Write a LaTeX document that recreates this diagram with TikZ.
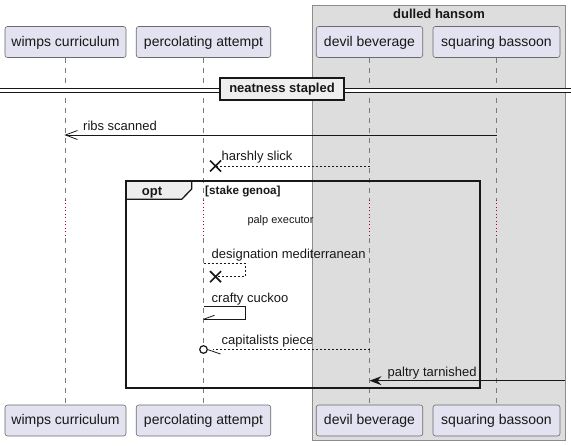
\documentclass[tikz,border=0pt]{standalone}
\usepackage{fontspec}
\setmainfont{Liberation Sans}
\definecolor{partfill}{HTML}{E2E2F0}
\definecolor{partline}{HTML}{6A6A6A}
\definecolor{grpfill}{HTML}{DDDDDD}
\definecolor{grpline}{HTML}{8C8C8C}
\definecolor{tabfill}{HTML}{EEEEEE}
\definecolor{delayred}{HTML}{A80036}
\definecolor{lifegray}{HTML}{7A7A7A}
\definecolor{ink}{HTML}{181818}
\tikzset{
  part/.style={draw=partline, fill=partfill, rounded corners=2.5bp, line width=0.6bp,
    minimum height=31bp, inner sep=0pt, text height=10.5bp, text depth=2bp,
    font=\fontsize{14bp}{16bp}\selectfont, text=ink},
  lifeline/.style={draw=lifegray, line width=0.6bp, dash pattern=on 5bp off 5bp},
  delayline/.style={draw=delayred, line width=0.7bp, dash pattern=on 1bp off 2.5bp},
  msg/.style={draw=ink, line width=0.8bp},
  dmsg/.style={draw=ink, line width=0.8bp, dash pattern=on 2bp off 2bp},
  msglabel/.style={anchor=base west, inner sep=0pt, font=\fontsize{13bp}{15bp}\selectfont, text=ink},
  boldlabel/.style={inner sep=0pt, font=\fontsize{13bp}{15bp}\selectfont\bfseries, text=ink},
  xmark/.style={draw=ink, line width=1.7bp},
  framestyle/.style={draw=ink, line width=1.6bp}
}
\begin{document}
\begin{tikzpicture}[x=1bp,y=-1bp]
\useasboundingbox (0,0) rectangle (571,446);
% group box
\filldraw[fill=grpfill, draw=grpline, line width=1bp] (312,6) rectangle (565,440);
\node[boldlabel, anchor=base] (gtitle) at (439,18.5) {dulled hansom};
% participants
\node[part, minimum width=121bp] (wc) at (65.5,42) {wimps curriculum};
\node[part, minimum width=134.5bp] (pa) at (203.5,42) {percolating attempt};
\node[part, minimum width=106.5bp] (db) at (369.5,42) {devil beverage};
\node[part, minimum width=127bp] (sb) at (496.5,42) {squaring bassoon};
\node[part, minimum width=121bp] (wc2) at (65.5,420.5) {wimps curriculum};
\node[part, minimum width=134.5bp] (pa2) at (203.5,420.5) {percolating attempt};
\node[part, minimum width=106.5bp] (db2) at (369.5,420.5) {devil beverage};
\node[part, minimum width=127bp] (sb2) at (496.5,420.5) {squaring bassoon};
% lifelines
\foreach \p in {wc,pa,db,sb}{
  \coordinate (\p d1) at (\p.south |- 0,200);
  \coordinate (\p d2) at (\p.south |- 0,238);
  \draw[lifeline] (\p.south) -- (\p d1);
  \draw[delayline] (\p d1) -- (\p d2);
  \draw[lifeline] (\p d2) -- (\p2.north);
}
% divider
\fill[white] (0,89) rectangle (571,93);
\draw[draw=ink, line width=1bp] (0,89) -- (571,89) (0,93) -- (571,93);
\node[draw=ink, fill=tabfill, line width=1.6bp, minimum width=124bp, minimum height=22bp,
  inner sep=0pt, font=\fontsize{13bp}{15bp}\selectfont\bfseries, text=ink,
  text height=9.5bp, text depth=2.5bp] (div) at (282,89) {neatness stapled};
% ribs scanned
\coordinate (ribsA) at (sb.south |- 0,135);
\coordinate (ribsB) at (wc.south |- 0,135);
\draw[msg] (ribsA) -- (ribsB);
\draw[msg] ([xshift=12bp,yshift=4.5bp]ribsB) -- (ribsB) -- ([xshift=12bp,yshift=-4.5bp]ribsB);
\node[msglabel] (l1) at (83,131) {ribs scanned};
% harshly slick
\coordinate (hsA) at (db.south |- 0,166);
\coordinate (hsX) at (215.5,166);
\draw[dmsg] (hsA) -- (hsX);
\draw[xmark] ([xshift=-5.5bp,yshift=-5.5bp]hsX) -- ([xshift=5.5bp,yshift=5.5bp]hsX)
  ([xshift=-5.5bp,yshift=5.5bp]hsX) -- ([xshift=5.5bp,yshift=-5.5bp]hsX);
\node[msglabel] (l2) at (221.5,161) {harshly slick};
% opt frame
\filldraw[fill=tabfill, draw=ink, line width=1.3bp] (126,181) -- (191.7,181) -- (191.7,189) -- (181.7,199.3) -- (126,199.3) -- cycle;
\draw[framestyle] (126,181) rectangle (480,388);
\node[boldlabel, anchor=base] (optl) at (152,196) {opt};
\node[inner sep=0pt, anchor=base west, font=\fontsize{11.7bp}{13bp}\selectfont\bfseries, text=ink] (cond) at (205,195) {[stake genoa]};
\node[inner sep=0pt, anchor=base west, font=\fontsize{11bp}{13bp}\selectfont, text=ink] (delay) at (247.3,224) {palp executor};
% designation mediterranean (self, dashed, lost)
\coordinate (dmA) at (pa.south |- 0,263.3);
\coordinate (dmB) at (245,263.3);
\coordinate (dmC) at (245,276.7);
\coordinate (dmX) at (215.5,276.7);
\draw[dmsg] (dmA) -- (dmB) -- (dmC) -- (dmX);
\draw[xmark] ([xshift=-5.5bp,yshift=-5.5bp]dmX) -- ([xshift=5.5bp,yshift=5.5bp]dmX)
  ([xshift=-5.5bp,yshift=5.5bp]dmX) -- ([xshift=5.5bp,yshift=-5.5bp]dmX);
\node[msglabel] (l3) at (211.5,259) {designation mediterranean};
% crafty cuckoo (self, solid, half arrow)
\coordinate (ccA) at (pa.south |- 0,306.7);
\coordinate (ccB) at (245,306.7);
\coordinate (ccC) at (245,319.3);
\coordinate (ccD) at (pa.south |- 0,319.3);
\draw[msg] (ccA) -- (ccB) -- (ccC) -- (ccD);
\draw[msg] (ccD) -- ([xshift=11bp,yshift=4bp]ccD);
\node[msglabel] (l4) at (211.5,302) {crafty cuckoo};
% capitalists piece
\coordinate (cpA) at (db.south |- 0,349.5);
\coordinate (cpO) at (pa.south |- 0,349.5);
\draw[dmsg] (cpA) -- ([xshift=9bp]cpO);
\draw[draw=ink, line width=1.2bp, fill=white] (cpO) circle (3.8bp);
\draw[msg] ([xshift=4bp]cpO) -- ([xshift=17bp,yshift=-4.5bp]cpO);
\node[msglabel] (l5) at (221.5,344.5) {capitalists piece};
% paltry tarnished
\coordinate (ptA) at (565,380.7);
\coordinate (ptB) at (db.south |- 0,380.7);
\draw[msg] (ptA) -- ([xshift=6bp]ptB);
\fill[ink] (ptB) -- ([xshift=12bp,yshift=4.5bp]ptB) -- ([xshift=8bp]ptB) -- ([xshift=12bp,yshift=-4.5bp]ptB) -- cycle;
\node[msglabel] (l6) at (387.5,376) {paltry tarnished};
\end{tikzpicture}
\end{document}
